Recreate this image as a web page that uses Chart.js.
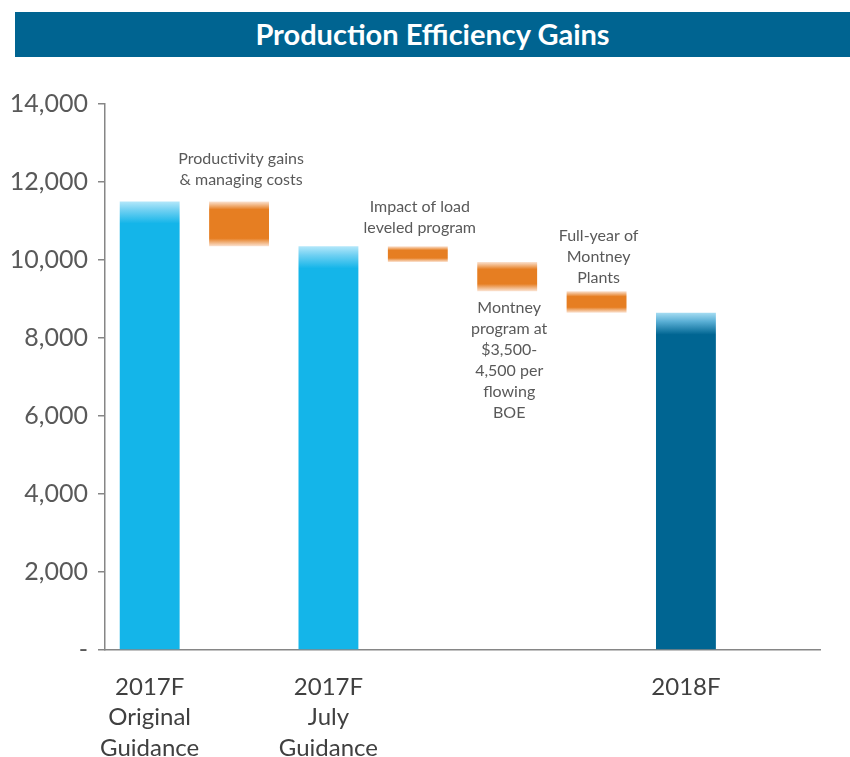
<!DOCTYPE html>
<html>
<head>
<meta charset="utf-8">
<script src="https://cdn.jsdelivr.net/npm/chart.js@4.4.0/dist/chart.umd.min.js"></script>
<style>
  body { margin: 0; background: #fff; }
  #wrap { position: relative; width: 850px; height: 757px; }
  #banner {
    position: absolute; left: 15px; top: 12px; width: 835px; height: 45px;
    background: #006491; color: #fff; font: bold 29px Lato, "Open Sans", sans-serif;
    display: flex; align-items: center; justify-content: center; padding-bottom: 2px; box-sizing: border-box;
  }
  #chart { position: absolute; left: 0; top: 0; }
</style>
</head>
<body>
<div id="wrap">
  <div id="banner">Production Efficiency Gains</div>
  <canvas id="chart" width="850" height="757"></canvas>
</div>
<script>
const categories = [["2017F", "Original", "Guidance"], "", ["2017F", "July", "Guidance"], "", "", "", "2018F", ""];
const totals = [11500, null, 10350, null, null, null, 8650, null];
const steps = [null, [10350, 11500], null, [9950, 10350], [9200, 9950], [8650, 9200], null, null];
const notes = [
    null,
    ["Productivity gains", "& managing costs"],
    null,
    ["Impact of load", "leveled program"],
    ["Montney", "program at", "$3,500-", "4,500 per", "flowing", "BOE"],
    ["Full-year of", "Montney", "Plants"],
    null, null
];
const yTicks = [0, 2000, 4000, 6000, 8000, 10000, 12000, 14000];

// where each note sits relative to its bar: above or below, and gap in px
const notePlace = { 1: ["above", 22], 3: ["above", 19], 4: ["below", 17], 5: ["above", 13] };

function barSpan(c) {
    const y = c.chart.scales.y;
    const raw = c.raw;
    let hi, lo;
    if (Array.isArray(raw)) { hi = Math.max(...raw); lo = Math.min(...raw); }
    else { hi = raw; lo = 0; }
    return [y.getPixelForValue(hi), y.getPixelForValue(lo)];
}

function totalFill(c) {
    const dark = c.dataIndex === 6;
    const solid = dark ? "#006592" : "#14B5E9";
    if (!c.chart.chartArea || c.raw == null) return solid;
    const [top, bottom] = barSpan(c);
    const g = c.chart.ctx.createLinearGradient(0, top, 0, bottom);
    const f = Math.min(1, 22 / (bottom - top));
    g.addColorStop(0, dark ? "#A6DDF3" : "#B3E7FA");
    g.addColorStop(f * 0.4, dark ? "#5AAFD5" : "#6FD0F2");
    g.addColorStop(f, solid);
    g.addColorStop(1, solid);
    return g;
}

function stepFill(c) {
    const solid = "#E67E22";
    if (!c.chart.chartArea || c.raw == null) return solid;
    const [top, bottom] = barSpan(c);
    const h = bottom - top;
    const e = Math.min(8, h * 0.25) / h;
    const g = c.chart.ctx.createLinearGradient(0, top, 0, bottom);
    g.addColorStop(0, "#FBE3D2");
    g.addColorStop(e, solid);
    g.addColorStop(1 - e, solid);
    g.addColorStop(1, "#FBE3D2");
    return g;
}

const notesPlugin = {
    id: "notes",
    afterDatasetsDraw(chart) {
        const ctx = chart.ctx;
        const x = chart.scales.x, y = chart.scales.y;
        ctx.save();
        ctx.font = "16px Lato, 'Open Sans', sans-serif";
        ctx.fillStyle = "#595959";
        ctx.textAlign = "center";
        ctx.textBaseline = "middle";
        const lh = 21;
        notes.forEach((lines, i) => {
            if (!lines || !steps[i]) return;
            const [where, gap] = notePlace[i];
            const cx = x.getPixelForValue(i) + 2;
            if (where === "above") {
                const top = y.getPixelForValue(Math.max(...steps[i]));
                const last = top - gap;
                lines.forEach((t, k) => ctx.fillText(t, cx, last - (lines.length - 1 - k) * lh));
            } else {
                const bot = y.getPixelForValue(Math.min(...steps[i]));
                lines.forEach((t, k) => ctx.fillText(t, cx, bot + gap + k * lh));
            }
        });
        ctx.restore();
    }
};

const ctx = document.getElementById("chart").getContext("2d");
const chart = new Chart(ctx, {
    type: "bar",
    data: {
        labels: categories,
        datasets: [
            { label: "Total", data: totals, backgroundColor: totalFill, grouped: false,
              barPercentage: 0.67, categoryPercentage: 1 },
            { label: "Change", data: steps, backgroundColor: stepFill, grouped: false,
              barPercentage: 0.67, categoryPercentage: 1 }
        ]
    },
    options: {
        responsive: false,
        animation: false,
        layout: { padding: { top: 104, right: 30, left: 0, bottom: 0 } },
        plugins: {
            legend: { display: false },
            tooltip: { enabled: false },
            title: { display: false }
        },
        scales: {
            x: {
                grid: { display: false },
                border: { display: true, color: "#868686", width: 1.5 },
                ticks: {
                    color: "#404040",
                    font: { family: "Lato, 'Open Sans', sans-serif", size: 24, lineHeight: 1.27 },
                    padding: 14,
                    maxRotation: 0,
                    autoSkip: false
                },
                afterFit(s) { s.height = 107; }
            },
            y: {
                min: 0, max: 14000,
                afterBuildTicks(s) { s.ticks = yTicks.map(v => ({ value: v })); },
                grid: { drawOnChartArea: false, drawTicks: true, tickLength: 7, color: "#868686", lineWidth: 1.5 },
                border: { display: true, color: "#868686", width: 1.5 },
                ticks: {
                    color: "#595959",
                    padding: 10,
                    font: { family: "Lato, 'Open Sans', sans-serif", size: 25 },
                    callback: v => v === 0 ? "-" : v.toLocaleString("en-US")
                },
                afterFit(s) { s.width = 105; }
            }
        }
    },
    plugins: [notesPlugin]
});
</script>
</body>
</html>
